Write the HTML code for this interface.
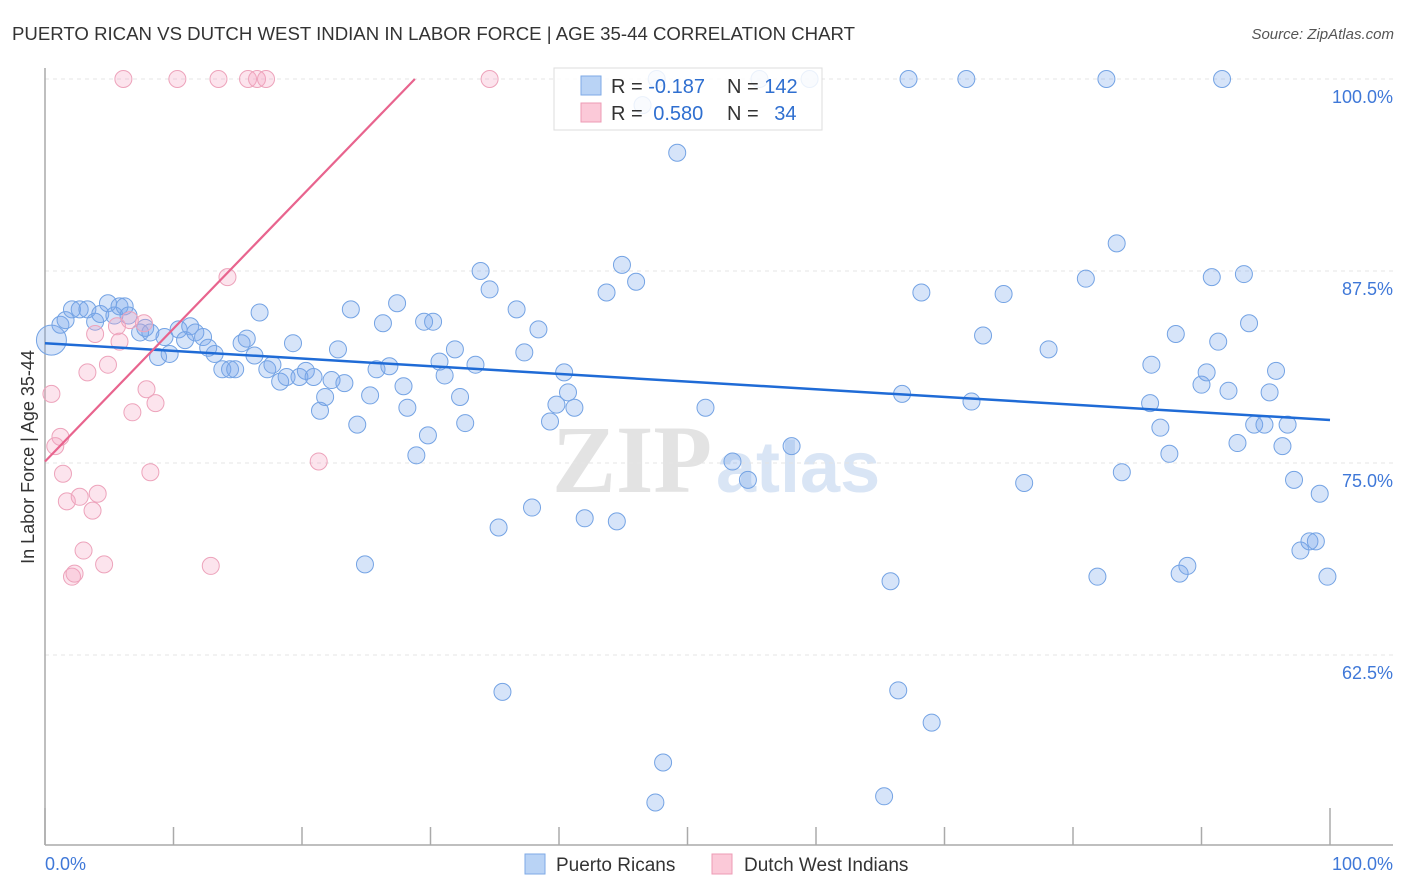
<!DOCTYPE html>
<html><head><meta charset="utf-8"><style>
body{margin:0;background:#fff;font-family:"Liberation Sans",sans-serif;}
svg{display:block}
</style></head><body>
<svg id="chart" width="1406" height="892" xmlns="http://www.w3.org/2000/svg">
<text x="12" y="40" font-size="18" fill="#333" textLength="843" lengthAdjust="spacingAndGlyphs">PUERTO RICAN VS DUTCH WEST INDIAN IN LABOR FORCE | AGE 35-44 CORRELATION CHART</text>
<text x="1394" y="39" font-size="15" fill="#555" font-style="italic" text-anchor="end">Source: ZipAtlas.com</text>
<g>
<text x="552" y="492" font-size="96" font-family="Liberation Serif,serif" fill="#e3e3e3" font-weight="bold">ZIP</text>
<text x="716" y="492" font-size="72" fill="#d9e5f5" font-weight="bold">atlas</text>
</g>
<g id="grid"></g>
<g id="axes"></g>
<g id="pts"></g>
<g id="lines"></g>
<text x="34" y="457" font-size="18" fill="#333" text-anchor="middle" transform="rotate(-90 34 457)">In Labor Force | Age 35-44</text>
<g>
<rect x="554" y="68" width="268" height="62" fill="rgba(255,255,255,0.85)" stroke="#ddd"/>
<rect x="581" y="76" width="20" height="19" fill="#b9d3f5" stroke="#7eaae6"/>
<rect x="581" y="103" width="20" height="19" fill="#fbc9d8" stroke="#ee9bb5"/>
<text x="611" y="93" font-size="20" fill="#333">R = <tspan fill="#2f6fd0">-0.187</tspan></text>
<text x="727" y="93" font-size="20" fill="#333">N = <tspan fill="#2f6fd0">142</tspan></text>
<text x="611" y="120" font-size="20" fill="#333">R = <tspan fill="#2f6fd0" dx="5">0.580</tspan></text>
<text x="727" y="120" font-size="20" fill="#333">N = <tspan fill="#2f6fd0" dx="10">34</tspan></text>
</g>
<g>
<rect x="525" y="854" width="20" height="20" fill="#b9d3f5" stroke="#7eaae6"/>
<text x="556" y="871" font-size="19" fill="#333">Puerto Ricans</text>
<rect x="712" y="854" width="20" height="20" fill="#fbc9d8" stroke="#ee9bb5"/>
<text x="744" y="871" font-size="19" fill="#333">Dutch West Indians</text>
</g>
</svg>
<script>
const blueX=[0.5,1.2,1.6,2.1,2.7,3.3,3.9,4.3,4.9,5.4,5.8,6.2,6.5,7.4,7.8,8.2,8.8,9.3,9.7,10.4,10.9,11.3,11.7,12.3,12.7,13.2,13.8,14.4,14.8,15.3,15.7,16.3,16.7,17.3,17.7,18.3,18.8,19.3,19.8,20.3,20.9,21.4,21.8,22.3,22.8,23.3,23.8,24.3,24.9,25.3,25.8,26.3,26.8,27.4,27.9,28.2,28.9,29.5,29.8,30.2,30.7,31.1,31.9,32.3,32.7,33.5,33.9,34.6,35.3,35.6,36.7,37.3,37.9,38.4,39.3,39.8,40.4,40.7,41.2,42.0,43.7,44.5,44.9,46.0,47.5,48.1,49.2,51.4,53.5,54.7,58.1,59.5,65.3,65.8,66.4,66.7,67.2,68.2,69.0,71.7,72.1,73.0,74.6,76.2,78.1,81.0,81.9,82.6,83.4,83.8,86.0,86.1,86.8,87.5,88.0,88.3,88.9,90.0,90.4,90.8,91.3,91.6,92.1,92.8,93.3,93.7,94.1,94.9,95.3,95.8,96.3,96.7,97.2,97.7,98.4,98.9,99.2,99.8,47.6,55.6,46.5];
const blueY=[83.0,84.0,84.3,85.0,85.0,85.0,84.2,84.7,85.4,84.6,85.2,85.2,84.6,83.5,83.8,83.5,81.9,83.2,82.1,83.7,83.0,83.9,83.5,83.2,82.5,82.1,81.1,81.1,81.1,82.8,83.1,82.0,84.8,81.1,81.4,80.3,80.6,82.8,80.6,81.0,80.6,78.4,79.3,80.4,82.4,80.2,85.0,77.5,68.4,79.4,81.1,84.1,81.3,85.4,80.0,78.6,75.5,84.2,76.8,84.2,81.6,80.7,82.4,79.3,77.6,81.4,87.5,86.3,70.8,60.1,85.0,82.2,72.1,83.7,77.7,78.8,80.9,79.6,78.6,71.4,86.1,71.2,87.9,86.8,52.9,55.5,95.2,78.6,75.1,73.9,76.1,100,53.3,67.3,60.2,79.5,100,86.1,58.1,100,79.0,83.3,86.0,73.7,82.4,87.0,67.6,100,89.3,74.4,78.9,81.4,77.3,75.6,83.4,67.8,68.3,80.1,80.9,87.1,82.9,100,79.7,76.3,87.3,84.1,77.5,77.5,79.6,81.0,76.1,77.5,73.9,69.3,69.9,69.9,73.0,67.6,100,100,98.3];
const pinkX=[6.1,10.3,13.5,15.8,16.5,17.2,34.6,14.2,3.9,5.6,5.8,7.7,3.3,4.9,0.5,7.9,8.6,6.8,1.2,0.8,1.4,8.2,21.3,1.7,2.7,4.1,3.7,3.0,4.6,12.9,2.1,2.3,6.6];
const pinkY=[100,100,100,100,100,100,100,87.1,83.4,83.9,82.9,84.1,80.9,81.4,79.5,79.8,78.9,78.3,76.7,76.1,74.3,74.4,75.1,72.5,72.8,73.0,71.9,69.3,68.4,68.3,67.6,67.8,84.3];
const yTicks=[100,87.5,75,62.5];
const yTickLabels=["100.0%","87.5%","75.0%","62.5%"];
const xTicks=[0,10,20,30,40,50,60,70,80,90,100];
const blueTrend=[82.8,77.8];
const pinkTrend=[75.1,0.865];
const NS="http://www.w3.org/2000/svg";
const X0=45,X1=1330,YT=79,YPX=15.36;
const sx=v=>X0+(X1-X0)*v/100;
const sy=v=>YT+(100-v)*YPX;
function mk(tag,attrs,parent){const e=document.createElementNS(NS,tag);for(const k in attrs)e.setAttribute(k,attrs[k]);document.getElementById(parent).appendChild(e);return e;}
yTicks.forEach((t,i)=>{
 const l=mk('line',{x1:45,x2:1393,y1:sy(t),y2:sy(t),stroke:'#e4e4e4','stroke-dasharray':'4,4'},'grid');
 
 
 const tx=mk('text',{x:1393,y:sy(t)+24,'font-size':18,fill:'#3f78d8','text-anchor':'end'},'grid');
 tx.textContent=yTickLabels[i];
 
 
});
const ax=mk('line',{x1:45,x2:45,y1:68,y2:845,stroke:'#aaa','stroke-width':1.5},'axes');


const bx=mk('line',{x1:45,x2:1393,y1:845,y2:845,stroke:'#aaa','stroke-width':1.5},'axes');


xTicks.forEach(t=>{
 const long=(t===0||t===100);
 const tk=mk('line',{x1:sx(t),x2:sx(t),y1:long?808:827,y2:845,stroke:'#aaa','stroke-width':1.5},'axes');
 
 
});
const xl0=mk('text',{x:45,y:870,'font-size':18,fill:'#3f78d8'},'axes');xl0.textContent='0.0%';


const xl1=mk('text',{x:1393,y:870,'font-size':18,fill:'#3f78d8','text-anchor':'end'},'axes');xl1.textContent='100.0%';


blueX.forEach((x,i)=>{
 const c=mk('circle',{cx:sx(x),cy:sy(blueY[i]),r:i===0?15:8.5,fill:'rgba(120,165,235,0.3)',stroke:'#74a3e4','stroke-width':1},'pts');
 
 
});
pinkX.forEach((x,i)=>{
 const c=mk('circle',{cx:sx(x),cy:sy(pinkY[i]),r:8.5,fill:'rgba(245,165,195,0.3)',stroke:'#eda3bb','stroke-width':1},'pts');
 
 
});
const bl=mk('line',{x1:sx(0),y1:sy(blueTrend[0]),x2:sx(100),y2:sy(blueTrend[1]),stroke:'#1f6bd6','stroke-width':2.5},'lines');


const xEnd=(100-pinkTrend[0])/pinkTrend[1];
const pl=mk('line',{x1:sx(0),y1:sy(pinkTrend[0]),x2:sx(xEnd),y2:sy(100),stroke:'#e8648e','stroke-width':2.2},'lines');


</script>
</body></html>
